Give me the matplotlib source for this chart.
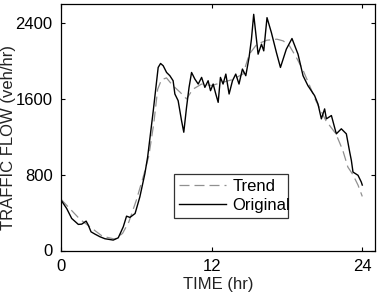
import matplotlib.pyplot as plt

plt.rcParams['font.family'] = ['Liberation Sans', 'DejaVu Sans']

# original traffic flow
orig_t = [0.0, 0.1, 0.45, 0.85, 1.38, 1.65, 2.0, 2.17, 2.39, 2.7, 3.1, 3.5, 4.16, 4.56,
          4.96, 5.22, 5.49, 5.9, 6.28, 6.68, 6.9, 7.35, 7.74, 7.93, 8.14, 8.41, 8.67,
          8.93, 9.07, 9.33, 9.6, 9.78, 10.0, 10.2, 10.4, 10.66, 10.93, 11.2, 11.46,
          11.72, 11.91, 12.12, 12.33, 12.52, 12.7, 12.91, 13.13, 13.39, 13.66, 13.92,
          14.18, 14.45, 14.72, 14.98, 15.17, 15.35, 15.51, 15.7, 15.97, 16.15, 16.41,
          16.76, 17.16, 17.48, 17.95, 18.4, 18.88, 19.28, 19.67, 20.2, 20.47, 20.74,
          21.0, 21.14, 21.54, 21.93, 22.33, 22.73, 23.0, 23.13, 23.26, 23.66, 23.92, 24.0]
orig_q = [530, 512, 443, 338, 275, 278, 310, 268, 197, 173, 145, 124, 110, 134,
          250, 362, 349, 390, 565, 810, 985, 1475, 1930, 1972, 1948, 1877, 1843,
          1790, 1650, 1580, 1370, 1247, 1510, 1720, 1877, 1808, 1755, 1825, 1720,
          1790, 1685, 1755, 1650, 1562, 1825, 1755, 1860, 1650, 1790, 1860,
          1755, 1913, 1843, 2035, 2228, 2490, 2297, 2070, 2175, 2105, 2455,
          2297, 2087, 1930, 2123, 2235, 2070, 1843, 1738, 1633, 1545, 1388,
          1493, 1388, 1423, 1230, 1283, 1230, 1037, 950, 827, 793, 722, 690]

# smoothed trend
trend_t = [0.0, 0.5, 1.5, 2.5, 3.3, 4.3, 4.9, 5.4, 6.0, 6.6, 7.0, 7.4, 7.7, 8.0, 8.4,
           8.9, 9.5, 10.0, 10.5, 11.2, 12.0, 12.8, 13.6, 14.5, 15.0, 15.6, 16.4, 17.2,
           17.7, 18.2, 18.75, 19.3, 19.8, 20.3, 21.1, 21.9, 22.45, 22.85, 23.25, 23.66,
           24.0]
trend_q = [540, 470, 330, 230, 150, 120, 180, 300, 530, 800, 1000, 1350, 1700, 1800, 1820,
           1740, 1667, 1598, 1700, 1755, 1740, 1770, 1800, 1860, 2070, 2175, 2217, 2228,
           2210, 2158, 2035, 1895, 1740, 1580, 1370, 1230, 1055, 880, 800, 690, 570]

fig = plt.figure(figsize=(3.79, 3.0), dpi=100)
ax = fig.add_axes([0.161, 0.165, 0.828, 0.822])

ax.plot(trend_t, trend_q, color='#909090', lw=0.9, dashes=(8, 4), label='Trend')
ax.plot(orig_t, orig_q, color='black', lw=1.0, label='Original')

ax.set_xlim(0, 25)
ax.set_ylim(0, 2600)
ax.set_xticks([0, 12, 24])
ax.set_yticks([0, 800, 1600, 2400])
ax.tick_params(direction='in', length=3, top=True, right=True, labelsize=12,
               colors='black', pad=6)
for s in ax.spines.values():
    s.set_linewidth(0.9)

ax.set_xlabel('TIME (hr)', fontsize=12, color='#222222')
ax.set_ylabel('TRAFFIC FLOW (veh/hr)', fontsize=12, color='#222222')
ax.xaxis.set_label_coords(0.5, -0.136)
ax.yaxis.set_label_coords(-0.166, 0.46)
ax.xaxis.label.set_va('center')
ax.yaxis.label.set_va('center')

leg = ax.legend(loc='lower left', bbox_to_anchor=(0.333, 0.10, 0.417, 0.216),
                mode='expand', fontsize=12, frameon=True, fancybox=False,
                edgecolor='black', handlelength=2.8, handletextpad=0.4,
                borderpad=0.3, labelspacing=0.2)
leg.get_frame().set_linewidth(0.9)

fig.savefig('out.png', dpi=100)
